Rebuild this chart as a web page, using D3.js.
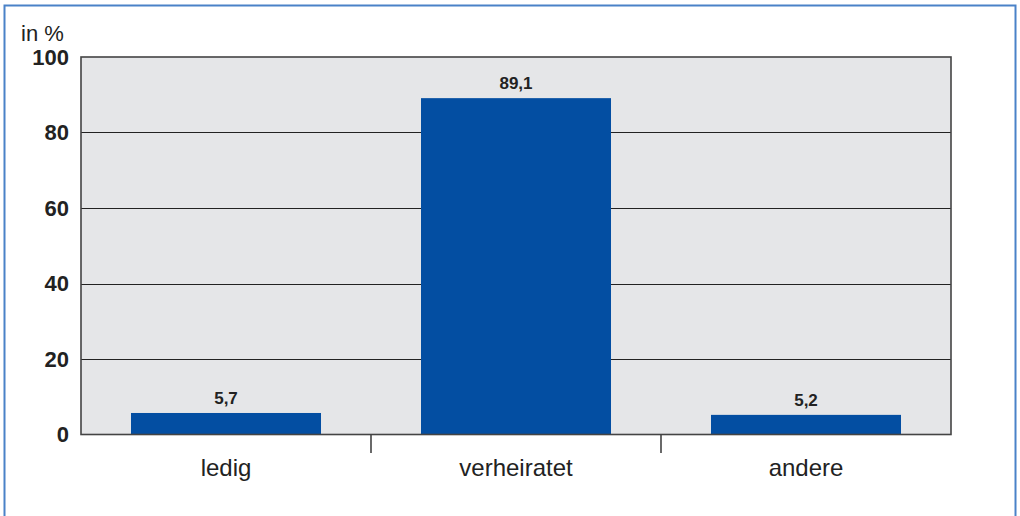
<!DOCTYPE html>
<html><head><meta charset="utf-8">
<script src="https://cdn.jsdelivr.net/npm/d3@7/dist/d3.min.js"></script>
<style>body{margin:0;background:#fff}svg{display:block}</style>
</head><body><svg id="c" width="1020" height="516"></svg>
<script>
const categories = ["ledig", "verheiratet", "andere"];
const values = [5.7, 89.1, 5.2];
const valueLabels = ["5,7", "89,1", "5,2"];
const yTicks = [0, 20, 40, 60, 80, 100];
const yUnit = "in %";

const svg = d3.select("#c");
const font = "'Liberation Sans', Arial, Helvetica, sans-serif";
const L = 81, R = 951, T = 57, B = 434.5;

// outer frame
svg.append("rect").attr("x", 4.5).attr("y", 5.5).attr("width", 1011).attr("height", 530)
  .attr("fill", "none").attr("stroke", "#4a82c8").attr("stroke-width", 2);

const x = d3.scaleBand().domain(categories).range([L, R]).paddingInner(0.3448).paddingOuter(0.1724);
const xb = d3.scaleBand().domain(categories).range([L, R]);
const y = d3.scaleLinear().domain([0, 100]).range([B, T]);

svg.append("rect").attr("x", L).attr("y", T).attr("width", R - L).attr("height", B - T)
  .attr("fill", "#e5e6e8");

// gridlines
svg.append("g").selectAll("line").data(yTicks.filter(d => d > 0 && d < 100)).join("line")
  .attr("x1", L).attr("x2", R).attr("y1", d => Math.round(y(d)) + 0.5).attr("y2", d => Math.round(y(d)) + 0.5)
  .attr("stroke", "#222").attr("stroke-width", 1);

// bars
svg.append("g").selectAll("rect").data(values).join("rect")
  .attr("x", (d, i) => x(categories[i])).attr("width", x.bandwidth())
  .attr("y", d => y(d)).attr("height", d => B - y(d)).attr("fill", "#034ea2");

// frame
svg.append("rect").attr("x", L).attr("y", T).attr("width", R - L).attr("height", B - T)
  .attr("fill", "none").attr("stroke", "#444").attr("stroke-width", 1.6);

// category separators
svg.append("g").selectAll("line").data(categories.slice(1)).join("line")
  .attr("x1", d => xb(d)).attr("x2", d => xb(d)).attr("y1", B).attr("y2", 453)
  .attr("stroke", "#444").attr("stroke-width", 1.6);

// y tick labels
svg.append("g").selectAll("text").data(yTicks).join("text")
  .attr("x", 69).attr("y", d => y(d)).attr("dy", "0.36em").attr("text-anchor", "end")
  .attr("font-family", font).attr("font-weight", "bold").attr("font-size", 22).attr("fill", "#222")
  .text(d => d);

svg.append("text").attr("x", 21).attr("y", 41).attr("font-family", font).attr("font-size", 22)
  .attr("fill", "#222").text(yUnit);

// category labels
svg.append("g").selectAll("text").data(categories).join("text")
  .attr("x", d => xb(d) + xb.bandwidth() / 2).attr("y", 476).attr("text-anchor", "middle")
  .attr("font-family", font).attr("font-size", 24).attr("fill", "#222").text(d => d);

// value labels
svg.append("g").selectAll("text").data(values).join("text")
  .attr("x", (d, i) => x(categories[i]) + x.bandwidth() / 2).attr("y", d => y(d) - 9)
  .attr("text-anchor", "middle").attr("font-family", font).attr("font-weight", "bold")
  .attr("font-size", 17).attr("fill", "#222").text((d, i) => valueLabels[i]);
</script></body></html>
